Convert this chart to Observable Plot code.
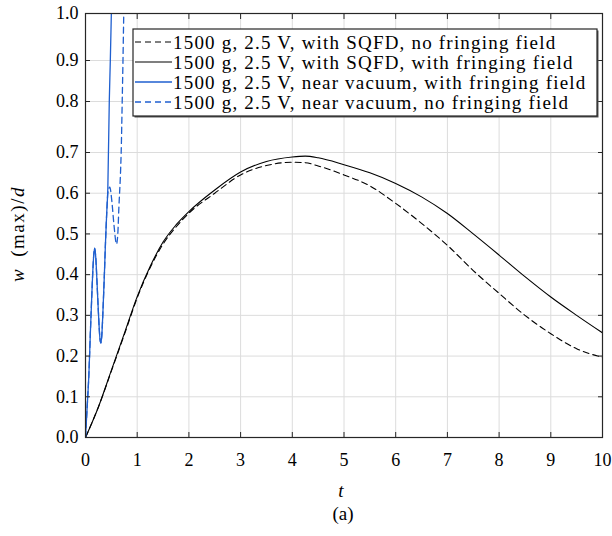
<!DOCTYPE html>
<html>
<head>
<meta charset="utf-8">
<script src="https://cdn.jsdelivr.net/npm/d3@7"></script>
<script src="https://cdn.jsdelivr.net/npm/@observablehq/plot@0.6"></script>
<style>
  html, body { margin: 0; padding: 0; background: #fff; }
  #chart svg { display: block; }
  #chart svg text { font-family: 'Liberation Serif', 'DejaVu Serif', serif; }
</style>
</head>
<body>
<div id="chart"></div>
<script>
// ---- data ----
const seriesNames = [
  "1500 g, 2.5 V, with SQFD, no fringing field",
  "1500 g, 2.5 V, with SQFD, with fringing field",
  "1500 g, 2.5 V, near vacuum, with fringing field",
  "1500 g, 2.5 V, near vacuum, no fringing field"
];
const seriesColors = ["#000000", "#000000", "#1f5fcf", "#1f5fcf"];
const seriesDash = ["6,4", null, null, "6,4"];

const tSqfd = [0, 0.25, 0.5, 0.75, 1, 1.25, 1.5, 1.75, 2, 2.5, 3, 3.5, 4, 4.25, 4.5, 5, 5.5, 6, 6.5, 7, 7.5, 8, 8.5, 9, 9.5, 10];
const wSqfdNoFringe = [0, 0.075, 0.163, 0.252, 0.343, 0.417, 0.475, 0.517, 0.551, 0.600, 0.645, 0.668, 0.676, 0.675, 0.667, 0.645, 0.618, 0.575, 0.526, 0.472, 0.410, 0.354, 0.300, 0.255, 0.218, 0.197];
const wSqfdFringe   = [0, 0.075, 0.165, 0.255, 0.346, 0.420, 0.480, 0.522, 0.555, 0.608, 0.652, 0.678, 0.689, 0.691, 0.687, 0.670, 0.650, 0.624, 0.591, 0.550, 0.500, 0.448, 0.395, 0.345, 0.300, 0.257];

const tVacFringe = [0, 0.03, 0.065, 0.095, 0.125, 0.15, 0.175, 0.2, 0.222, 0.245, 0.265, 0.282, 0.297, 0.315, 0.34, 0.365, 0.387, 0.41, 0.432, 0.46, 0.48, 0.5, 0.52];
const wVacFringe = [0, 0.07, 0.154, 0.26, 0.359, 0.43, 0.465, 0.44, 0.383, 0.32, 0.269, 0.24, 0.232, 0.25, 0.318, 0.40, 0.48, 0.55, 0.613, 0.80, 0.90, 1.00, 1.10];

const tVacNoFringe = [0, 0.03, 0.065, 0.095, 0.125, 0.15, 0.175, 0.2, 0.222, 0.245, 0.265, 0.282, 0.297, 0.315, 0.34, 0.365, 0.387, 0.41, 0.432, 0.47, 0.51, 0.55, 0.60, 0.625, 0.645, 0.68, 0.69, 0.71, 0.725, 0.74, 0.76];
const wVacNoFringe = [0, 0.07, 0.154, 0.26, 0.359, 0.43, 0.465, 0.44, 0.383, 0.32, 0.269, 0.24, 0.232, 0.25, 0.318, 0.40, 0.48, 0.55, 0.600, 0.615, 0.580, 0.523, 0.475, 0.500, 0.563, 0.660, 0.70, 0.80, 0.90, 1.00, 1.10];

const xTicks = [0, 1, 2, 3, 4, 5, 6, 7, 8, 9, 10];
const yTicks = [0, 0.1, 0.2, 0.3, 0.4, 0.5, 0.6, 0.7, 0.8, 0.9, 1.0];
// y axis of the reference is not uniform above 0.7 (piecewise)
const yBreaks = [0, 0.7, 0.8, 0.9, 1.0];
const yBreakPx = [437, 152, 101, 60, 13];

const toRows = (ts, ws) => ts.map((t, i) => ({t, w: ws[i]}));
const rowsA = toRows(tSqfd, wSqfdNoFringe);
const rowsB = toRows(tSqfd, wSqfdFringe);
const rowsC = toRows(tVacFringe, wVacFringe);
const rowsD = toRows(tVacNoFringe, wVacNoFringe);

const font = "'Liberation Serif', 'DejaVu Serif', serif";
const W = 612, H = 536;

const chart = Plot.plot({
  width: W,
  height: H,
  marginLeft: 85,
  marginRight: 10,
  marginTop: 13,
  marginBottom: 99,
  style: {fontFamily: font, fontSize: "18px", color: "#000", background: "#fff"},
  x: {domain: [0, 10], ticks: xTicks, label: null},
  y: {type: "linear", domain: yBreaks, range: yBreakPx, ticks: yTicks, label: null},
  marks: [
    Plot.gridX(xTicks, {stroke: "#dcdcdc", strokeOpacity: 1, strokeWidth: 1}),
    Plot.gridY(yTicks, {stroke: "#dcdcdc", strokeOpacity: 1, strokeWidth: 1}),
    Plot.line(rowsA, {x: "t", y: "w", stroke: seriesColors[0], strokeWidth: 1.1, strokeDasharray: seriesDash[0], curve: "monotone-x", clip: true}),
    Plot.line(rowsB, {x: "t", y: "w", stroke: seriesColors[1], strokeWidth: 1.1, curve: "monotone-x", clip: true}),
    Plot.line(rowsD, {x: "t", y: "w", stroke: seriesColors[3], strokeWidth: 1.3, strokeDasharray: seriesDash[3], curve: "monotone-x", clip: true}),
    Plot.line(rowsC, {x: "t", y: "w", stroke: seriesColors[2], strokeWidth: 1.3, curve: "monotone-x", clip: true}),
    // tick labels
    Plot.axisX(xTicks, {anchor: "bottom", tickSize: 0, tickPadding: 16, tickFormat: d3.format("d"), fontSize: 18, fontFamily: font, label: null}),
    Plot.axisY(yTicks, {anchor: "left", tickSize: 0, tickPadding: 7, tickFormat: d3.format(".1f"), fontSize: 18, fontFamily: font, label: null}),
    // inward tick marks on all four sides
    Plot.axisX(xTicks, {anchor: "bottom", tickSize: -5, text: null, label: null, stroke: "#262626"}),
    Plot.axisX(xTicks, {anchor: "top", tickSize: -5, text: null, label: null, stroke: "#262626"}),
    Plot.axisY(yTicks, {anchor: "left", tickSize: -5, text: null, label: null, stroke: "#262626"}),
    Plot.axisY(yTicks, {anchor: "right", tickSize: -5, text: null, label: null, stroke: "#262626"}),
    Plot.frame({stroke: "#262626", strokeWidth: 1.2})
  ]
});

document.getElementById("chart").appendChild(chart);

// ---- axis titles, caption and legend ----
const svg = d3.select(chart);

const ylab = svg.append("text")
  .attr("transform", "translate(24,234) rotate(-90)")
  .attr("text-anchor", "middle")
  .attr("font-family", font)
  .attr("font-size", 19)
  .attr("letter-spacing", 1.5)
  .attr("fill", "#000");
ylab.append("tspan").attr("font-style", "italic").text("w");
ylab.append("tspan").text("\u2002(max)/");
ylab.append("tspan").attr("font-style", "italic").text("d");

svg.append("text")
  .attr("x", 341).attr("y", 497)
  .attr("text-anchor", "middle")
  .attr("font-family", font).attr("font-size", 19).attr("font-style", "italic")
  .attr("fill", "#000")
  .text("t");

svg.append("text")
  .attr("x", 343).attr("y", 520)
  .attr("text-anchor", "middle")
  .attr("font-family", font).attr("font-size", 19)
  .attr("fill", "#000")
  .text("(a)");

const lg = svg.append("g");
const lx = 133, ly = 29, lw = 464, lh = 87;
lg.append("rect").attr("x", lx + 1.5).attr("y", ly + 1.5).attr("width", lw).attr("height", lh)
  .attr("fill", "#555").attr("stroke", "none");
lg.append("rect").attr("x", lx).attr("y", ly).attr("width", lw).attr("height", lh)
  .attr("fill", "#fff").attr("stroke", "#262626").attr("stroke-width", 1.2);
seriesNames.forEach((name, i) => {
  const yy = 42 + i * 20;
  lg.append("line")
    .attr("x1", 135).attr("x2", 172).attr("y1", yy).attr("y2", yy)
    .attr("stroke", seriesColors[i]).attr("stroke-width", i < 2 ? 1.1 : 1.3)
    .attr("stroke-dasharray", seriesDash[i]);
  lg.append("text")
    .attr("x", 173).attr("y", yy).attr("dy", "0.35em")
    .attr("text-anchor", "start")
    .attr("font-family", font).attr("font-size", 19)
    .attr("letter-spacing", 1.2)
    .attr("fill", "#000")
    .text(name);
});
</script>
</body>
</html>
